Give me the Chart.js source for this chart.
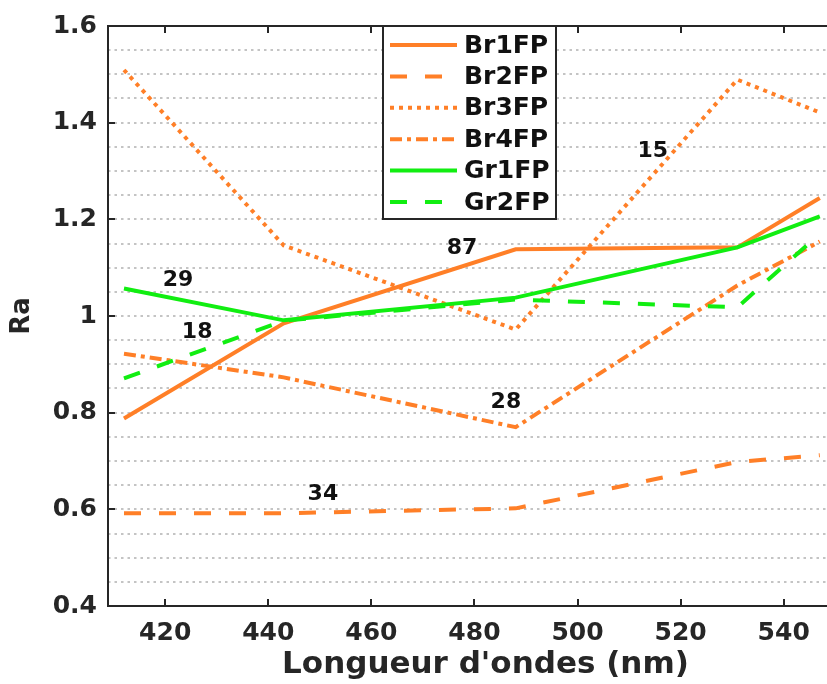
<!DOCTYPE html>
<html>
<head>
<meta charset="utf-8">
<script src="https://cdn.jsdelivr.net/npm/chart.js@4.4.1/dist/chart.umd.min.js"></script>
<style>
  html, body { margin: 0; padding: 0; background: #fff; overflow: hidden; }
  #wrap { width: 827px; height: 684px; }
</style>
</head>
<body>
<div id="wrap"><canvas id="c" width="827" height="684"></canvas></div>
<script>
// ---- Data ----
const wavelengths = [412, 443, 488, 531, 547];
const seriesNames = ['Br1FP', 'Br2FP', 'Br3FP', 'Br4FP', 'Gr1FP', 'Gr2FP'];
const br1 = [0.788, 0.985, 1.138, 1.142, 1.244];
const br2 = [0.592, 0.592, 0.602, 0.698, 0.712];
const br3 = [1.509, 1.146, 0.972, 1.489, 1.421];
const br4 = [0.922, 0.873, 0.770, 1.063, 1.154];
const gr1 = [1.057, 0.991, 1.038, 1.142, 1.206];
const gr2 = [0.871, 0.990, 1.034, 1.018, 1.170];
const xTickValues = [420, 440, 460, 480, 500, 520, 540];
const yMajorTicks = [0.4, 0.6, 0.8, 1.0, 1.2, 1.4, 1.6];
const annotationTexts = ['29', '18', '87', '28', '34', '15'];
const annotationX = [422.5, 426.2, 477.6, 486.1, 450.6, 514.6];
const annotationY = [1.073, 0.966, 1.141, 0.821, 0.631, 1.340];
const xTitle = "Longueur d'ondes (nm)";
const yTitle = 'Ra';

// ---- Styles ----
const ORANGE = '#ff7f27';
const GREEN = '#11ee11';
const AXIS = '#262626';
const FONT = "'DejaVu Sans', 'Liberation Sans', sans-serif";

const seriesValues = [br1, br2, br3, br4, gr1, gr2];
const seriesColors = [ORANGE, ORANGE, ORANGE, ORANGE, GREEN, GREEN];
const seriesDash = [[], [17, 18], [4, 5], [12, 5, 4, 5], [], [17, 18]];

const datasets = seriesNames.map((name, i) => ({
  label: name,
  data: wavelengths.map((w, j) => ({ x: w, y: seriesValues[i][j] })),
  borderColor: seriesColors[i],
  backgroundColor: seriesColors[i],
  borderWidth: 4,
  borderDash: seriesDash[i],
  pointRadius: 0,
  tension: 0,
  fill: false,
  order: seriesNames.length - i
}));

const framePlugin = {
  id: 'frame',
  afterDatasetsDraw(chart) {
    const { ctx, chartArea: a, scales: { x, y } } = chart;
    ctx.save();
    // annotations
    ctx.fillStyle = '#111';
    ctx.font = 'bold 22px ' + FONT;
    ctx.textAlign = 'center';
    ctx.textBaseline = 'middle';
    annotationTexts.forEach((t, i) => {
      ctx.fillText(t, x.getPixelForValue(annotationX[i]), y.getPixelForValue(annotationY[i]));
    });
    // axes lines
    ctx.strokeStyle = AXIS;
    ctx.lineWidth = 2;
    ctx.setLineDash([]);
    ctx.beginPath();
    ctx.moveTo(a.right, a.top); ctx.lineTo(a.left, a.top); ctx.lineTo(a.left, a.bottom); ctx.lineTo(a.right, a.bottom);
    ctx.stroke();
    // inward ticks
    ctx.beginPath();
    xTickValues.forEach(v => {
      const px = Math.round(x.getPixelForValue(v));
      ctx.moveTo(px, a.bottom); ctx.lineTo(px, a.bottom - 7);
      ctx.moveTo(px, a.top); ctx.lineTo(px, a.top + 7);
    });
    yMajorTicks.forEach(v => {
      const py = Math.round(y.getPixelForValue(v));
      ctx.moveTo(a.left, py); ctx.lineTo(a.left + 7, py);
    });
    ctx.stroke();
    // legend box
    const lx = 383, ly = 26, lw = 173, lh = 193;
    ctx.fillStyle = '#fff';
    ctx.fillRect(lx, ly, lw, lh);
    ctx.strokeStyle = AXIS;
    ctx.lineWidth = 2;
    ctx.strokeRect(lx, ly, lw, lh);
    ctx.font = 'bold 25px ' + FONT;
    ctx.textAlign = 'left';
    ctx.textBaseline = 'middle';
    chart.data.datasets.forEach((ds, i) => {
      const ry = 45 + i * 31.4;
      ctx.strokeStyle = ds.borderColor;
      ctx.lineWidth = ds.borderWidth;
      ctx.setLineDash(ds.borderDash);
      ctx.beginPath();
      ctx.moveTo(390, ry); ctx.lineTo(457, ry);
      ctx.stroke();
      ctx.setLineDash([]);
      ctx.fillStyle = '#111';
      ctx.fillText(ds.label, 464, ry + 1);
    });
    // x title
    ctx.fillStyle = AXIS;
    ctx.font = 'bold 31px ' + FONT;
    ctx.textAlign = 'center';
    ctx.textBaseline = 'middle';
    ctx.fillText(xTitle, (a.left + a.right) / 2 + 18, 665);
    ctx.restore();
  }
};

new Chart(document.getElementById('c'), {
  type: 'line',
  data: { datasets },
  options: {
    responsive: false,
    animation: false,
    layout: { padding: { top: 25, right: 0, left: 0, bottom: 0 } },
    plugins: { legend: { display: false }, tooltip: { enabled: false } },
    scales: {
      x: {
        type: 'linear',
        min: 408.9,
        max: 548.4,
        afterBuildTicks: s => { s.ticks = xTickValues.map(v => ({ value: v })); },
        afterFit: s => { s.height = 78; },
        grid: { display: false, drawTicks: false },
        border: { display: false },
        ticks: {
          autoSkip: false,
          maxRotation: 0,
          padding: 12,
          color: AXIS,
          font: { family: FONT, size: 25, weight: 'bold' },
          callback: v => String(v)
        },
        title: { display: false }
      },
      y: {
        type: 'linear',
        min: 0.4,
        max: 1.6,
        afterFit: s => { s.width = 108; },
        ticks: {
          stepSize: 0.05,
          autoSkip: false,
          padding: 11,
          color: AXIS,
          font: { family: FONT, size: 25, weight: 'bold' },
          callback: v => {
            const r = Math.round(v * 5) / 5;
            if (Math.abs(v - r) < 1e-6 && yMajorTicks.some(t => Math.abs(t - r) < 1e-6)) {
              return String(Math.round(r * 10) / 10);
            }
            return '';
          }
        },
        grid: {
          drawTicks: false,
          color: '#c4c4c4',
          lineWidth: 2
        },
        border: { display: false, dash: [2.5, 4] },
        title: {
          display: true,
          text: yTitle,
          color: AXIS,
          font: { family: FONT, size: 26, weight: 'bold' },
          padding: { top: 7, bottom: 0 }
        }
      }
    }
  },
  plugins: [framePlugin]
});
</script>
</body>
</html>
